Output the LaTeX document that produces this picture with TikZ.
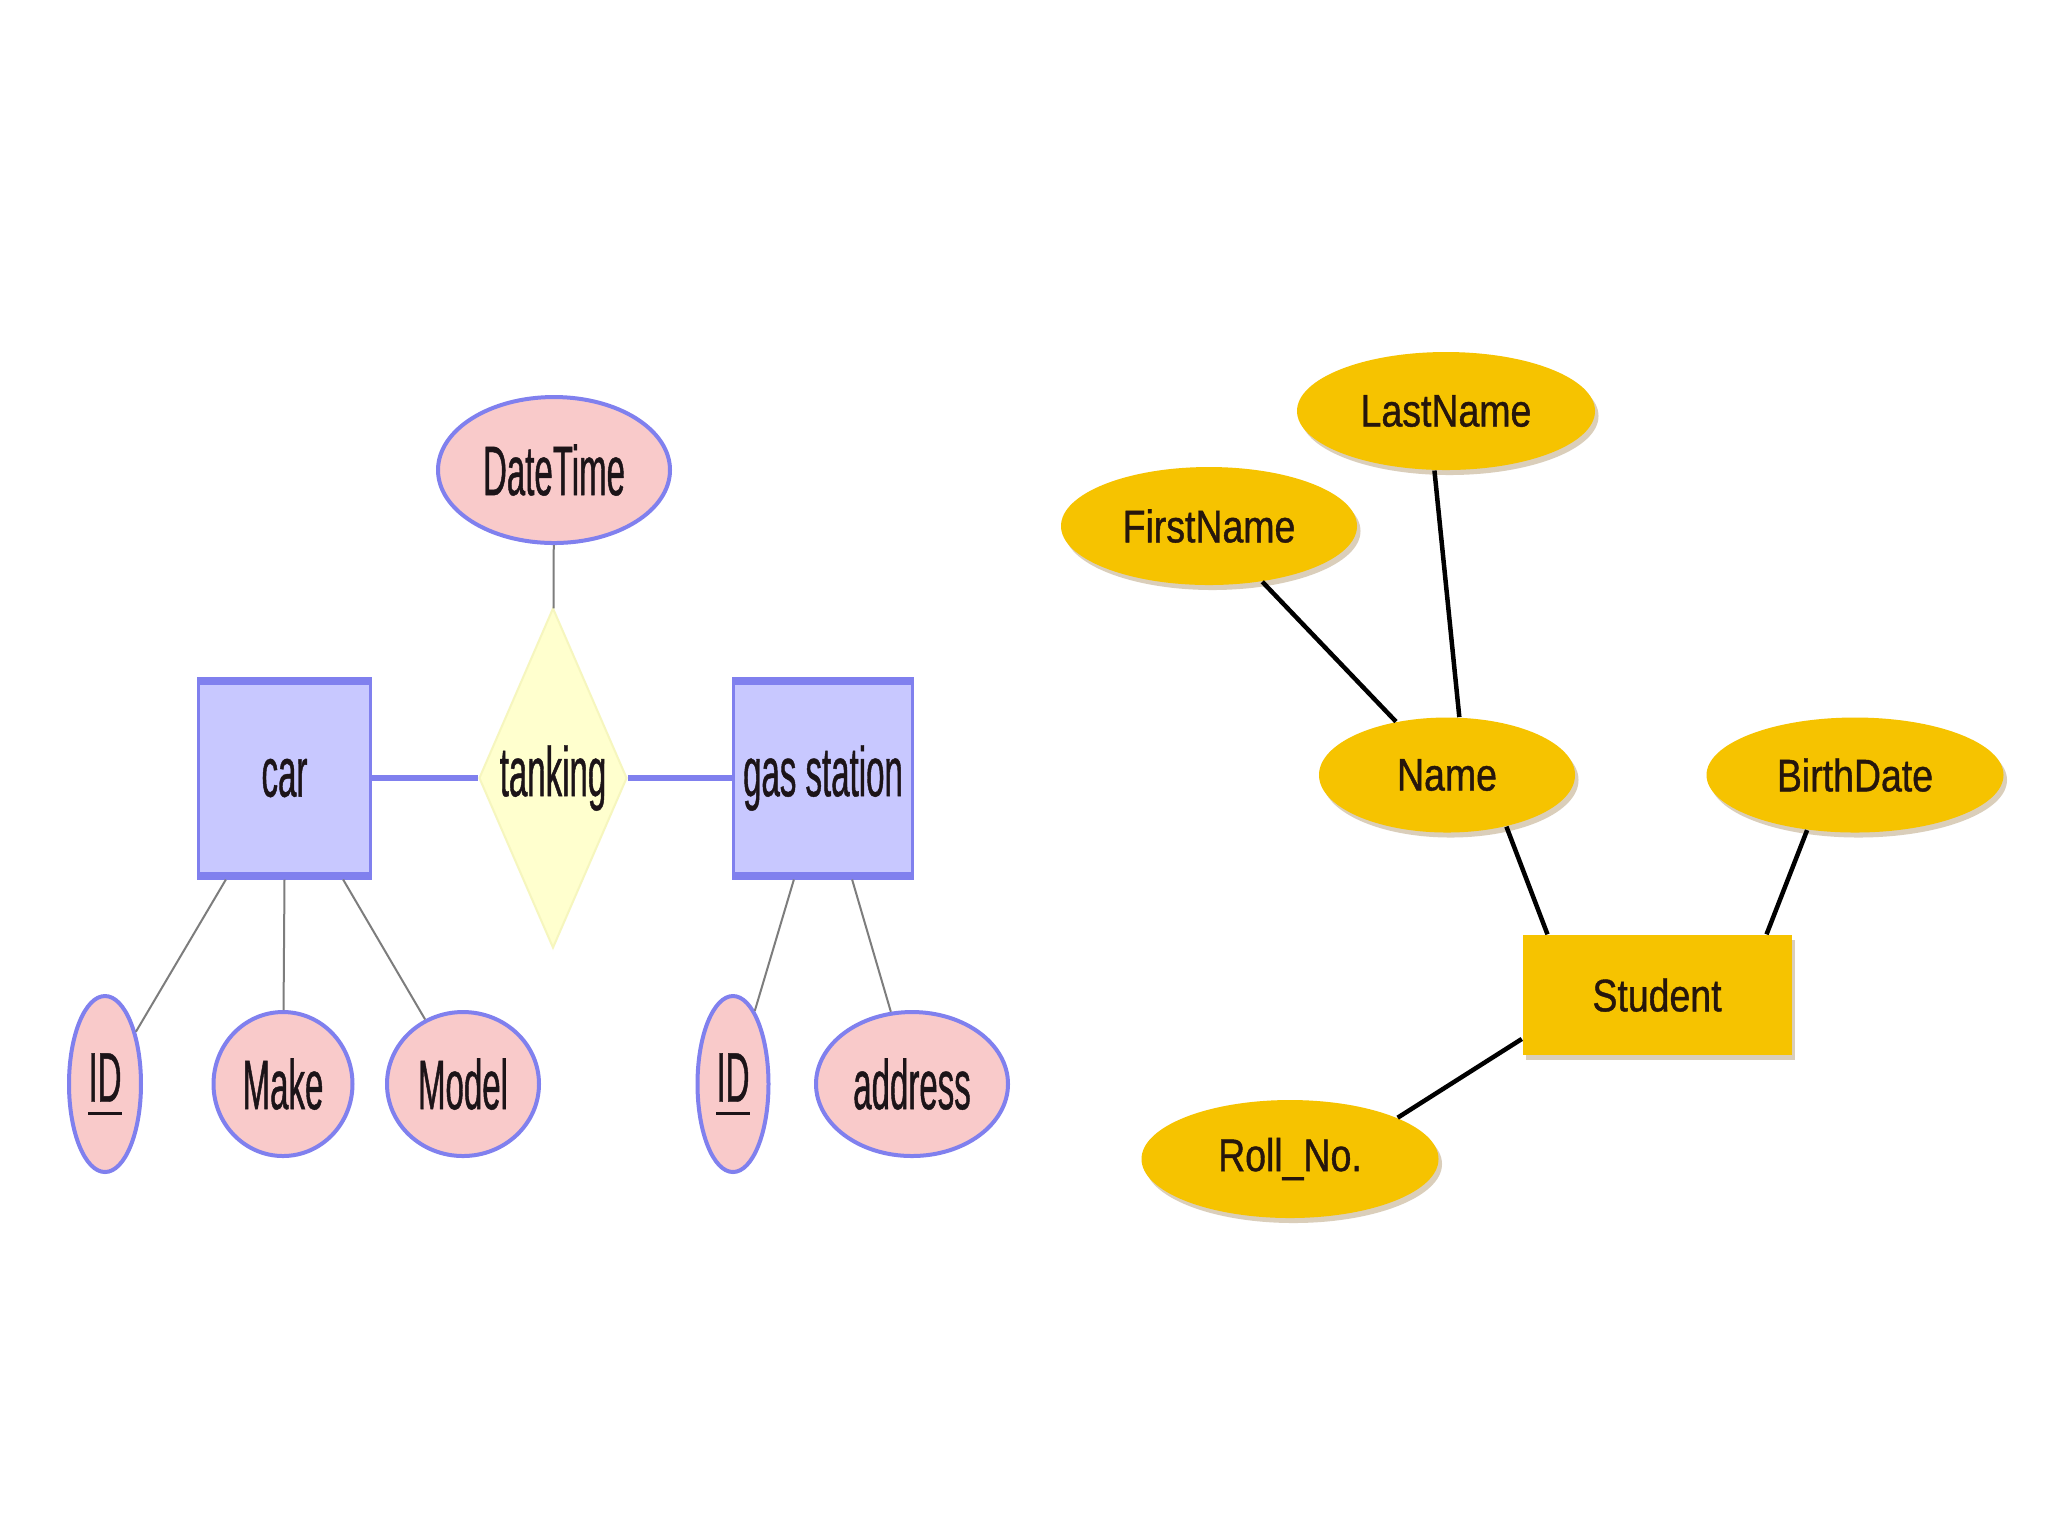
\documentclass[tikz,border=0pt]{standalone}
\usepackage{fontspec}
\setmainfont{Liberation Sans}
\newfontfamily\leftfont[FakeStretch=0.47,FakeBold=0.6]{Liberation Sans}
\newfontfamily\rightfont[FakeStretch=0.82,FakeBold=0.9]{Liberation Sans}
\usetikzlibrary{shapes.geometric,shadows}
\definecolor{edgeblue}{RGB}{128,128,238}
\definecolor{entblue}{RGB}{200,200,255}
\definecolor{attrpink}{RGB}{249,202,202}
\definecolor{relyellow}{RGB}{255,255,206}
\definecolor{reledge}{RGB}{246,246,190}
\definecolor{attrgray}{RGB}{125,125,125}
\definecolor{gold}{RGB}{246,195,0}
\definecolor{shadowbrown}{RGB}{150,115,60}
\definecolor{txtdarkL}{RGB}{28,20,24}
\definecolor{txtdarkR}{RGB}{38,22,12}
\newcommand\ulid[1]{\setbox0\hbox{#1}\rlap{\rule[-1.3mm]{\wd0}{0.32mm}}\box0}
\tikzset{
  lfont/.style={font=\leftfont\fontsize{20pt}{24pt}\selectfont, text=txtdarkL},
  rfont/.style={font=\rightfont\fontsize{13pt}{16pt}\selectfont, text=txtdarkR},
  attrL/.style={ellipse, draw=edgeblue, line width=0.4mm, fill=attrpink, inner sep=0pt, lfont},
  entL/.style={rectangle, draw=edgeblue, line width=0.3mm, fill=entblue, inner sep=0pt, lfont},
  relL/.style={diamond, draw=reledge, line width=0.2mm, fill=relyellow, inner sep=0pt},
  bar/.style={fill=edgeblue},
  attrline/.style={draw=attrgray, line width=0.2mm},
  relline/.style={draw=edgeblue, line width=0.55mm},
  rshadow/.style={drop shadow={shadow xshift=0.35mm, shadow yshift=-0.5mm, fill=shadowbrown, opacity=0.35}},
  attrR/.style={ellipse, fill=gold, inner sep=0pt, rshadow, rfont},
  entR/.style={rectangle, fill=gold, inner sep=0pt, rshadow, rfont},
  lineR/.style={draw=black, line width=0.45mm},
}
\begin{document}
\begin{tikzpicture}[x=0.1mm, y=-0.1mm]
\useasboundingbox (0,0) rectangle (2048,1536);
\fill[white] (0,0) rectangle (2048,1536);

% ---------- left diagram ----------
\node[attrL, minimum width=23.2mm, minimum height=14.6mm] (dt) at (554,470) {DateTime};
\node[relL, minimum width=14.8mm, minimum height=34mm] (tk) at (553,778) {};
\node[lfont] (tkl) at (553,778) {tanking};
\node[entL, minimum width=17.2mm, minimum height=20mm] (car) at (284.5,778) {car};
\node[entL, minimum width=17.9mm, minimum height=20mm] (gas) at (823,778) {gas station};
\fill[bar] (car.north west) rectangle ([yshift=-0.8mm]car.north east);
\fill[bar] (car.south west) rectangle ([yshift=0.8mm]car.south east);
\fill[bar] (gas.north west) rectangle ([yshift=-0.8mm]gas.north east);
\fill[bar] (gas.south west) rectangle ([yshift=0.8mm]gas.south east);

\node[attrL, minimum width=7.2mm, minimum height=17.6mm] (id1) at (105,1084) {\ulid{ID}};
\node[attrL, minimum width=13.9mm, minimum height=14.4mm] (mk) at (283,1084) {Make};
\node[attrL, minimum width=15.2mm, minimum height=14.4mm] (md) at (463,1084) {Model};
\node[attrL, minimum width=7.1mm, minimum height=17.6mm] (id2) at (733,1084) {\ulid{ID}};
\node[attrL, minimum width=19.2mm, minimum height=14.4mm] (ad) at (912,1084) {address};

\draw[attrline] (dt) -- (tk);
\draw[relline] (car) -- (tk);
\draw[relline] (tk) -- (gas);
\draw[attrline] (car.-120) -- (id1);
\draw[attrline] (car.-90) -- (mk);
\draw[attrline] (car.-60) -- (md);
\draw[attrline] (gas.-106) -- (id2);
\draw[attrline] (gas.-74) -- (ad);

% ---------- right diagram ----------
\node[attrR, minimum width=29.8mm, minimum height=11.8mm] (ln) at (1446,411) {LastName};
\node[attrR, minimum width=29.6mm, minimum height=11.8mm] (fn) at (1209,526) {FirstName};
\node[attrR, minimum width=25.6mm, minimum height=11.5mm] (nm) at (1447,775) {Name};
\node[attrR, minimum width=29.7mm, minimum height=11.5mm] (bd) at (1855,775) {BirthDate};
\node[entR, minimum width=26.9mm, minimum height=12mm] (st) at (1657,995) {Student};
\node[attrR, minimum width=29.7mm, minimum height=11.8mm] (rn) at (1290,1159) {Roll\_No.};

\draw[lineR] (fn) -- (nm);
\draw[lineR] (ln.-101) -- (nm.78);
\draw[lineR] (nm.-41) -- (st.151);
\draw[lineR] (bd.-131) -- (st.29.5);
\draw[lineR] (st.-162) -- (rn.21);
\end{tikzpicture}
\end{document}
